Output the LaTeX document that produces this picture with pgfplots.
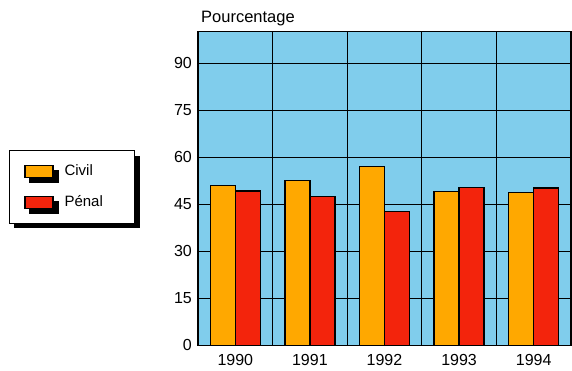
\documentclass[border=0pt]{standalone}
\usepackage{pgfplots}
\pgfplotsset{compat=1.18}
\usepackage{fontspec}
\setmainfont{Liberation Sans}
\usetikzlibrary{shadows}

\definecolor{skyblue}{RGB}{128,205,236}
\definecolor{civil}{RGB}{255,168,0}
\definecolor{penal}{RGB}{243,36,12}

\begin{document}
\begin{tikzpicture}
\fontsize{15}{18}\selectfont
\begin{axis}[
  scale only axis,
  width=373pt, height=313.6pt,
  ymin=0, ymax=100,
  xmin=-0.5, xmax=4.5,
  ytick={0,15,30,45,60,75,90},
  xtick={0,1,2,3,4},
  xticklabels={1990,1991,1992,1993,1994},
  minor xtick={0.5,1.5,2.5,3.5},
  ymajorgrids, xminorgrids,
  major grid style={black, line width=1.1pt},
  minor grid style={black, line width=1.1pt},
  major tick length=0pt, minor tick length=0pt,
  axis line style={black, line width=1.3pt},
  axis background/.style={fill=skyblue},
  /pgf/number format/assume math mode=true,
  tick label style={font=\fontsize{16}{19}\selectfont},
  yticklabel style={xshift=-1pt},
  xticklabel style={yshift=-4pt},
  title={Pourcentage},
  title style={at={(0,1)}, anchor=base west, yshift=3pt, xshift=-2pt, font=\fontsize{16.5}{19}\selectfont},
  ybar=0pt, bar width=0.335,
  legend style={at={(-0.169,0.505)}, anchor=east, draw=black, line width=0.8pt, fill=white,
    drop shadow={shadow xshift=5pt, shadow yshift=-5pt, fill=black, opacity=1},
    inner xsep=15pt, inner ysep=12pt, row sep=14pt,
    font=\fontsize{15}{18}\selectfont},
  legend cell align=left,
  legend image code/.code={\draw[#1, draw=black, line width=1.2pt] (0pt,-6pt) rectangle (28pt,6pt);},
]
\addplot[fill=civil, draw=black, line width=1.4pt, bar shift=-0.1675] coordinates {
  (0,51) (1,52.5) (2,57) (3,49) (4,48.8)
};
\addplot[fill=penal, draw=black, line width=1.4pt, bar shift=0.1675] coordinates {
  (0,49.2) (1,47.4) (2,42.6) (3,50.4) (4,50.2)
};
\addlegendentry{\makebox[62pt][l]{\hspace{9pt}Civil}}
\addlegendentry{\makebox[62pt][l]{\hspace{9pt}Pénal}}
\end{axis}
\path (-198pt,-22.7pt) rectangle (374pt,345.3pt);
\end{tikzpicture}
\end{document}
